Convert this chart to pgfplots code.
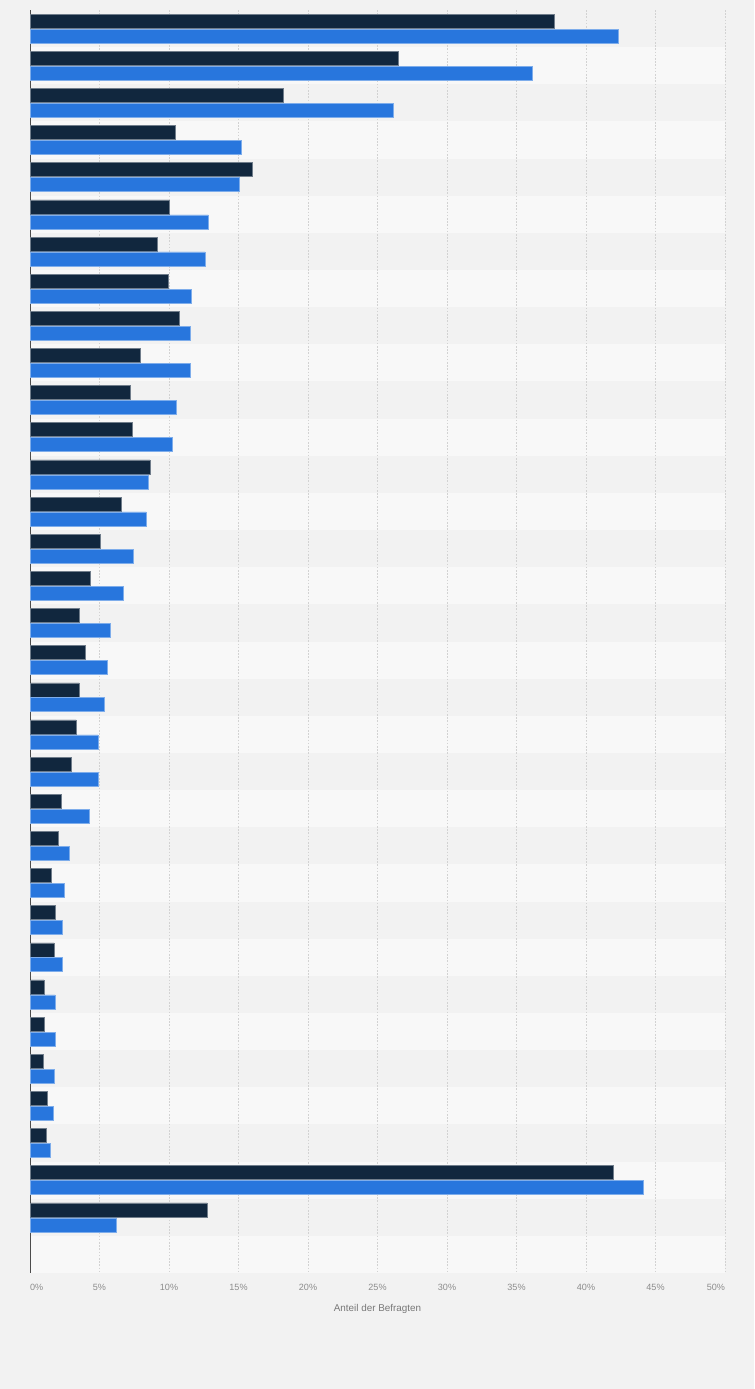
\documentclass[border=0pt]{standalone}
\usepackage{pgfplots}
\pgfplotsset{compat=1.18}
\usepackage{pgfplotstable}
\usepackage{fontspec}
\setmainfont{Liberation Sans}
\definecolor{bgc}{RGB}{242,242,242}
\definecolor{stripe}{RGB}{248,248,248}
\definecolor{darkbar}{RGB}{17,39,62}
\definecolor{bluebar}{RGB}{40,118,221}
\definecolor{gridc}{RGB}{210,210,210}
\definecolor{tickc}{RGB}{140,140,140}
\definecolor{labc}{RGB}{120,120,120}
\pgfplotstableread{
y x
1 37.75
2 26.5
3 18.2
4 10.43
5 16.0
6 10.0
7 9.14
8 9.95
9 10.74
10 7.94
11 7.2
12 7.34
13 8.63
14 6.6
15 5.04
16 4.32
17 3.53
18 3.96
19 3.53
20 3.31
21 2.95
22 2.23
23 2.0
24 1.51
25 1.8
26 1.73
27 1.0
28 1.0
29 0.93
30 1.22
31 1.15
32 41.94
33 12.75
}\darkdata
\pgfplotstableread{
y x
1 42.35
2 36.1
3 26.1
4 15.2
5 15.06
6 12.83
7 12.6
8 11.6
9 11.53
10 11.53
11 10.5
12 10.2
13 8.49
14 8.35
15 7.41
16 6.69
17 5.76
18 5.54
19 5.32
20 4.89
21 4.89
22 4.24
23 2.83
24 2.45
25 2.3
26 2.3
27 1.8
28 1.8
29 1.73
30 1.65
31 1.44
32 44.1
33 6.18
}\bluedata
\begin{document}
\begin{tikzpicture}
\fill[bgc] (0,0) rectangle (565.5pt,-1041.75pt);
\begin{axis}[
  at={(22.5pt,-7.5pt)}, anchor=north west,
  scale only axis,
  width=521.25pt, height=947.25pt,
  xmin=0, xmax=50, ymin=0.5, ymax=34.5,
  y dir=reverse,
  ytick=\empty,
  xtick={0,5,...,50},
  xticklabels={\rlap{0\%},5\%,10\%,15\%,20\%,25\%,30\%,35\%,40\%,45\%,\llap{50\%}},
  major tick length=0pt,
  axis line style={draw=none},
  xticklabel style={font=\fontsize{6.8pt}{8pt}\selectfont, text=tickc, yshift=-5pt},
  xlabel={Anteil der Befragten},
  xlabel style={font=\fontsize{7.4pt}{9pt}\selectfont, text=labc, yshift=-3.5pt},
  clip=false,
]
\pgfplotsinvokeforeach{2,4,6,8,10,12,14,16,18,20,22,24,26,28,30,32,34}{
  \fill[stripe] (axis cs:0,#1-0.5) rectangle (axis cs:50,#1+0.5);
}
\pgfplotsinvokeforeach{5,10,15,20,25,30,35,40,45,50}{
  \draw[gridc, line width=0.5pt, dash pattern=on 1.2pt off 1.2pt] (axis cs:#1,0.5) -- (axis cs:#1,34.5);
}
\draw[black!70, line width=0.7pt] (axis cs:0,0.5) -- (axis cs:0,34.5);
\addplot[xbar, bar width=10.5pt, bar shift=5.6pt, fill=darkbar, draw=darkbar!60!white, line width=0.4pt] table[x=x,y=y] {\darkdata};
\addplot[xbar, bar width=10.5pt, bar shift=-5.6pt, fill=bluebar, draw=bluebar!60!white, line width=0.4pt] table[x=x,y=y] {\bluedata};
\end{axis}
\end{tikzpicture}
\end{document}
